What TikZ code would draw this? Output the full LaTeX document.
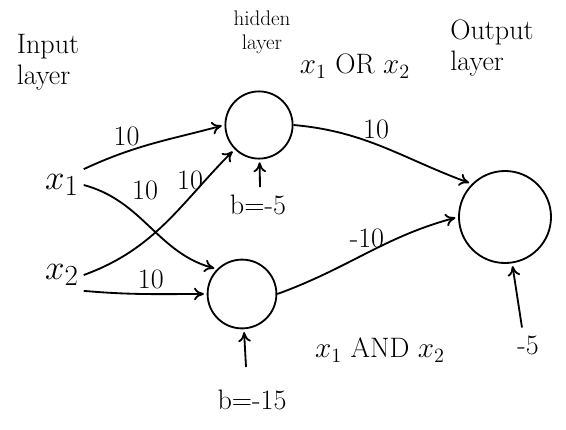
\documentclass[tikz,border=0pt]{standalone}
\usetikzlibrary{arrows.meta}
\begin{document}
\begin{tikzpicture}[x=0.025cm,y=-0.025cm,
    neuron/.style={draw,circle,line width=1.3pt,minimum size=#1,inner sep=0pt},
    wire/.style={line width=1.3pt,-{To[length=7pt,width=9pt]},shorten >=2pt},
    hand/.style={font=\fontsize{20}{22}\selectfont},
    big/.style={font=\fontsize{28}{30}\selectfont}]
  \useasboundingbox (0,0) rectangle (566,429);
  % layer titles
  \node[hand,align=left] (inlab) at (48,62) {Input\\layer};
  \node[hand,align=center,font=\fontsize{15}{17}\selectfont] (hidlab) at (262,32) {hidden\\layer};
  \node[hand,align=left] (outlab) at (492,48) {Output\\layer};
  \node[hand] (orlab) at (355,66) {$x_1$ OR $x_2$};
  \node[hand] (andlab) at (380,350) {$x_1$ AND $x_2$};
  % inputs and neurons
  \node[big] (x1) at (62,185) {$x_1$};
  \node[big] (x2) at (62,275) {$x_2$};
  \node[neuron=1.68cm] (h1) at (259,125) {};
  \node[neuron=1.72cm] (h2) at (242,294) {};
  \node[neuron=2.3cm] (out) at (505,217) {};
  % biases
  \node[hand] (b1) at (258,205) {b=-5};
  \node[hand] (b2) at (252,400) {b=-15};
  \node[hand] (b3) at (528,345) {-5};
  \draw[wire] (b1.north) ++(2,-3) coordinate (b1t) (b1t) -- (h1);
  \draw[wire] (b2) ++(-6,-33) coordinate (b2t) (b2t) -- (h2);
  \draw[wire] (b3.north) ++(-6,-3) coordinate (b3t) (b3t) -- (out);
  % weights
  \draw[wire] (x1.north east) to[out=25,in=195] node[hand,above,pos=0.3] {10} (h1.west);
  \draw[wire] (x1.east) to[out=-15,in=165] (h2.north west);
  \draw[wire] (x2.east) to[out=20,in=225] (h1.south west);
  \node[hand] (w12) at (145,190) {10};
  \node[hand] (w21) at (190,180) {10};
  \draw[wire] (x2.south east) to[out=-5,in=180] node[hand,above,pos=0.55] {10} (h2.west);
  \draw[wire] (h1.east) to[out=-5,in=160] node[hand,above,pos=0.45] {10} (out.north west);
  \draw[wire] (h2.east) to[out=20,in=195] node[hand,above,pos=0.5] {-10} (out.west);
\end{tikzpicture}
\end{document}
